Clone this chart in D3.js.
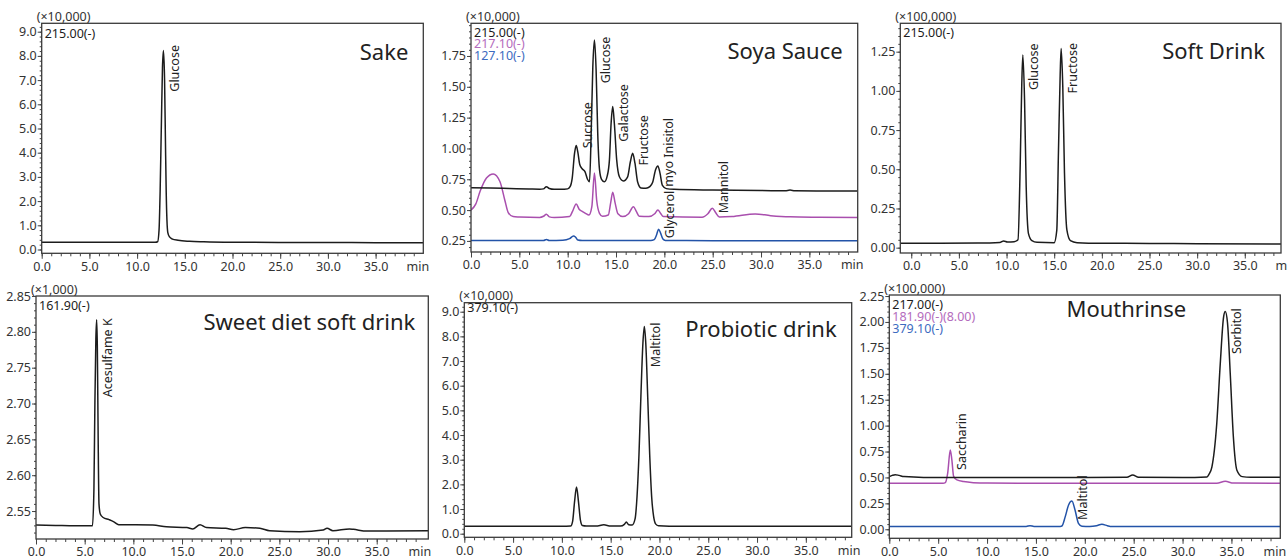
<!DOCTYPE html>
<html><head><meta charset="utf-8">
<script src="https://cdn.jsdelivr.net/npm/d3@7"></script>
<style>
body{margin:0;background:#fff}
svg{display:block;font-family:"Noto Sans",sans-serif}
</style></head><body>
<svg id="chart" width="1287" height="560"></svg>
<script>
// ---------- axis tick values / labels ----------
const timeTicks = [0,5,10,15,20,25,30,35,40];
const timeTickLabels = ["0.0","5.0","10.0","15.0","20.0","25.0","30.0","35.0","min"];
const yTicks9 = [0,1,2,3,4,5,6,7,8,9];
const yLabels9 = ["0.0","1.0","2.0","3.0","4.0","5.0","6.0","7.0","8.0","9.0"];
const yTicksSoya = [0.25,0.5,0.75,1.0,1.25,1.5,1.75];
const yLabelsSoya = ["0.25","0.50","0.75","1.00","1.25","1.50","1.75"];
const yTicksSoft = [0,0.25,0.5,0.75,1.0,1.25];
const yLabelsSoft = ["0.00","0.25","0.50","0.75","1.00","1.25"];
const yTicksSweet = [2.55,2.6,2.65,2.7,2.75,2.8,2.85];
const yLabelsSweet = ["2.55","2.60","2.65","2.70","2.75","2.80","2.85"];
const yTicksMouth = [0,0.25,0.5,0.75,1.0,1.25,1.5,1.75,2.0,2.25];
const yLabelsMouth = ["0.00","0.25","0.50","0.75","1.00","1.25","1.50","1.75","2.00","2.25"];

// ---------- chromatogram traces [time (min), intensity] ----------
const sake215 = [[0,0.30],[3,0.30],[6,0.30],[9,0.30],[11,0.30],[11.9,0.30],[12.15,0.32],[12.3,0.8],[12.42,2.5],[12.55,5.3],[12.66,7.5],[12.76,8.22],[12.88,7.0],[12.97,4.5],[13.05,2.4],[13.13,1.2],[13.22,0.7],[13.4,0.52],[13.7,0.43],[14.3,0.38],[15.5,0.34],[17,0.32],[20,0.30],[25,0.29],[30,0.29],[35,0.28],[40,0.28]];

const soya215 = [[0,0.682],[2,0.679],[4,0.675],[6,0.671],[7.1,0.669],[7.5,0.672],[7.8,0.69],[8.1,0.675],[8.6,0.668],[9.3,0.668],[10.0,0.672],[10.25,0.69],[10.47,0.76],[10.71,0.96],[10.88,1.023],[11.05,0.97],[11.25,0.87],[11.5,0.835],[11.8,0.81],[12.05,0.75],[12.26,0.73],[12.43,1.12],[12.6,1.66],[12.77,1.88],[12.94,1.64],[13.11,1.12],[13.29,0.83],[13.5,0.75],[13.8,0.73],[14.1,0.78],[14.32,0.907],[14.49,1.20],[14.66,1.34],[14.83,1.20],[15.07,0.907],[15.35,0.77],[15.76,0.736],[16.2,0.77],[16.48,0.89],[16.72,0.96],[16.96,0.88],[17.23,0.73],[17.58,0.68],[18.1,0.677],[18.5,0.69],[18.78,0.723],[19.1,0.83],[19.33,0.858],[19.55,0.80],[19.8,0.70],[20.2,0.674],[21,0.668],[25,0.662],[30,0.658],[32.5,0.657],[33.0,0.662],[33.5,0.656],[36,0.655],[40,0.654]];
const soya217 = [[0,0.50],[0.5,0.55],[0.93,0.65],[1.6,0.76],[2.3,0.793],[3.0,0.73],[3.5,0.58],[3.85,0.48],[4.36,0.447],[5,0.444],[7.1,0.44],[7.5,0.45],[7.8,0.466],[8.1,0.445],[8.6,0.44],[10.2,0.447],[10.5,0.49],[10.88,0.55],[11.2,0.505],[11.5,0.49],[11.84,0.474],[12.2,0.46],[12.5,0.528],[12.77,0.80],[13.0,0.58],[13.29,0.474],[13.6,0.45],[14.2,0.46],[14.45,0.56],[14.66,0.645],[14.9,0.56],[15.2,0.47],[15.7,0.447],[16.3,0.47],[16.8,0.528],[17.1,0.49],[17.4,0.45],[18.4,0.447],[19.0,0.47],[19.33,0.50],[19.6,0.475],[19.9,0.447],[23.9,0.442],[24.5,0.47],[24.96,0.515],[25.3,0.48],[25.7,0.443],[27,0.447],[29.4,0.469],[31,0.455],[33,0.445],[36,0.442],[40,0.44]];
const soya127 = [[0,0.253],[7.5,0.253],[7.8,0.262],[8.1,0.253],[9.5,0.255],[10.2,0.268],[10.6,0.29],[10.8,0.282],[11.05,0.257],[11.5,0.253],[18.6,0.253],[18.95,0.26],[19.2,0.30],[19.4,0.345],[19.6,0.315],[19.85,0.265],[20.1,0.254],[25,0.252],[30,0.252],[35,0.252],[40,0.252]];

const soft215 = [[-1.15,0.028],[3,0.028],[7,0.029],[9.3,0.033],[9.7,0.043],[10.1,0.036],[10.8,0.038],[11.2,0.05],[11.43,0.52],[11.6,1.05],[11.71,1.229],[11.89,0.94],[12.06,0.39],[12.3,0.09],[12.66,0.045],[13.2,0.034],[15.0,0.032],[15.27,0.11],[15.45,0.62],[15.63,1.11],[15.73,1.271],[15.9,1.03],[16.08,0.474],[16.33,0.113],[16.7,0.045],[17.4,0.032],[20,0.028],[25,0.027],[30,0.025],[38.8,0.023]];

const sweet162 = [[0,2.5305],[2,2.530],[4,2.5295],[5.8,2.5295],[5.95,2.58],[6.05,2.70],[6.15,2.79],[6.23,2.817],[6.3,2.78],[6.38,2.66],[6.47,2.56],[6.6,2.546],[6.9,2.541],[7.5,2.538],[8.0,2.535],[8.5,2.531],[12,2.5305],[13.4,2.528],[15.5,2.527],[16.1,2.525],[16.85,2.531],[17.5,2.527],[19.5,2.526],[20.3,2.524],[21.5,2.527],[23,2.526],[24,2.5225],[27.1,2.521],[29.5,2.5235],[29.9,2.526],[30.5,2.5225],[32.2,2.525],[32.6,2.5245],[34,2.522],[36,2.522],[40.3,2.5225]];

const probiotic379 = [[0,0.30],[5,0.30],[10,0.30],[10.9,0.31],[11.1,0.5],[11.3,1.3],[11.5,1.89],[11.7,1.3],[11.9,0.55],[12.1,0.33],[12.5,0.31],[13.5,0.31],[14.3,0.36],[15,0.31],[16.0,0.31],[16.4,0.38],[16.6,0.47],[16.85,0.36],[17.2,0.35],[17.5,0.6],[17.7,1.5],[17.9,3.2],[18.1,5.6],[18.3,7.7],[18.45,8.4],[18.6,7.7],[18.8,5.5],[19.0,3.2],[19.2,1.5],[19.4,0.7],[19.6,0.4],[19.9,0.32],[21,0.30],[30,0.30],[39.7,0.30]];

const mouth217 = [[0,0.508],[0.3,0.52],[0.6,0.527],[1.0,0.52],[1.5,0.508],[3.5,0.50],[10,0.50],[20,0.50],[24.3,0.502],[24.9,0.524],[25.5,0.503],[30,0.50],[32.5,0.505],[32.7,0.53],[33.0,0.60],[33.5,1.02],[33.86,1.60],[34.2,2.05],[34.37,2.10],[34.6,1.99],[34.88,1.50],[35.2,0.89],[35.56,0.57],[36.1,0.508],[37,0.502],[40,0.501]];
const mouth182 = [[0,0.444],[5.5,0.444],[5.73,0.45],[5.97,0.54],[6.24,0.765],[6.4,0.67],[6.58,0.51],[6.92,0.476],[7.6,0.46],[8.6,0.45],[10,0.446],[20,0.444],[33.5,0.444],[34.37,0.463],[35.2,0.446],[40,0.444]];
const mouth379 = [[0,0.026],[10,0.027],[14.0,0.027],[14.4,0.035],[14.8,0.027],[17.5,0.028],[17.66,0.032],[18.0,0.122],[18.34,0.235],[18.68,0.273],[19.0,0.186],[19.35,0.058],[19.7,0.03],[20.5,0.028],[21.2,0.035],[21.75,0.048],[22.3,0.035],[22.6,0.028],[30,0.027],[40,0.027]];

// ---------- peak annotations: name, retention time, intensity where the label starts ----------
const sakePeaks = [{name:"Glucose", time:12.78, from:6.52}];
const soyaPeaks = [{name:"Sucrose", time:10.88, from:1.001},{name:"Glucose", time:12.77, from:1.528},{name:"Galactose", time:14.66, from:1.055},{name:"Fructose", time:16.72, from:0.861},{name:"myo Inisitol", time:19.33, from:0.69},{name:"Glycerol", time:19.4, from:0.272},{name:"Mannitol", time:24.96, from:0.474}];
const softPeaks = [{name:"Glucose", time:11.71, from:1.005},{name:"Fructose", time:15.73, from:0.984}];
const sweetPeaks = [{name:"Acesulfame K", time:6.23, from:2.7086}];
const probioticPeaks = [{name:"Maltitol", time:18.45, from:6.75}];
const mouthPeaks = [{name:"Saccharin", time:6.24, from:0.572},{name:"Maltitol", time:18.68, from:0.09},{name:"Sorbitol", time:34.37, from:1.69}];

// ---------- styles ----------
const BLACK = "#1c1c1c", PURPLE = "#a94fae", BLUE = "#2353a8";
const PURPLE_T = "#b46cbd", BLUE_T = "#3d6bbf";

const panels = [
  {title:"Sake", mult:"(\u00d710,000)", ch:[["215.00(-)",sake215,BLACK,BLACK]], peaks:sakePeaks,
   yT:yTicks9, yL:yLabels9, yMinor:0.2, box:[41.7,23.3,423.3,253.3], xDom:[0,40], yDom:[-0.157,9.347],
   chanY:37.5, chanStep:11.5, titleX:-15, titleY:60, titleAnchor:"end"},
  {title:"Soya Sauce", mult:"(\u00d710,000)", ch:[["215.00(-)",soya215,BLACK,BLACK],["217.10(-)",soya217,PURPLE,PURPLE_T],["127.10(-)",soya127,BLUE,BLUE_T]], peaks:soyaPeaks,
   yT:yTicksSoya, yL:yLabelsSoya, yMinor:0.05, box:[471,23.3,857.7,252], xDom:[0,40], yDom:[0.16,2.015],
   chanY:36.5, chanStep:11.5, titleX:-15, titleY:58.5, titleAnchor:"end"},
  {title:"Soft Drink", mult:"(\u00d7100,000)", ch:[["215.00(-)",soft215,BLACK,BLACK]], peaks:softPeaks,
   yT:yTicksSoft, yL:yLabelsSoft, yMinor:0.05, box:[900.3,23.3,1281,253], xDom:[-1.15,38.8], yDom:[-0.034,1.431],
   chanY:37, chanStep:11.5, titleX:-16, titleY:58.5, titleAnchor:"end"},
  {title:"Sweet diet soft drink", mult:"(\u00d71,000)", ch:[["161.90(-)",sweet162,BLACK,BLACK]], peaks:sweetPeaks,
   yT:yTicksSweet, yL:yLabelsSweet, yMinor:0.01, box:[36,296,428.3,539], xDom:[0,40.3], yDom:[2.511,2.85],
   chanY:310, chanStep:11.5, titleX:-13, titleY:330, titleAnchor:"end"},
  {title:"Probiotic drink", mult:"(\u00d710,000)", ch:[["379.10(-)",probiotic379,BLACK,BLACK]], peaks:probioticPeaks,
   yT:yTicks9, yL:yLabels9, yMinor:0.2, box:[464.3,302.7,851.7,537.3], xDom:[0,39.7], yDom:[-0.146,9.365],
   chanY:312, chanStep:11.5, titleX:-15, titleY:336.5, titleAnchor:"end"},
  {title:"Mouthrinse", mult:"(\u00d7100,000)", ch:[["217.00(-)",mouth217,BLACK,BLACK],["181.90(-)(8.00)",mouth182,PURPLE,PURPLE_T],["379.10(-)",mouth379,BLUE,BLUE_T]], peaks:mouthPeaks,
   yT:yTicksMouth, yL:yLabelsMouth, yMinor:0.05, box:[889.3,295,1280.3,538.3], xDom:[0,40], yDom:[-0.087,2.26],
   chanY:308.5, chanStep:12, titleX:-154, titleY:317, titleAnchor:"middle"}
];

const svg = d3.select("#chart");
const FS = 12.5, AX = "#444", TX = "#333";

panels.forEach((p, i) => {
  const [x0,y0,x1,y1] = p.box;
  const x = d3.scaleLinear().domain(p.xDom).range([x0,x1]);
  const y = d3.scaleLinear().domain(p.yDom).range([y1,y0]);
  const g = svg.append("g");
  const clipId = "clip" + i;
  svg.append("clipPath").attr("id", clipId).append("rect")
    .attr("x", x0).attr("y", y0).attr("width", x1-x0).attr("height", y1-y0);

  const styleAxis = sel => {
    sel.select(".domain").remove();
    sel.selectAll("line").attr("stroke", AX).attr("stroke-width", 1);
    sel.selectAll("text").attr("fill", TX).style("font-size", FS + "px").style("font-family", '"Noto Sans",sans-serif');
  };

  // x minor ticks (1 min)
  const xMinor = d3.range(0, 40, 1).filter(v => v >= p.xDom[0] && v <= p.xDom[1]);
  g.append("g").attr("transform", `translate(0,${y1})`)
    .call(d3.axisBottom(x).tickValues(xMinor).tickSize(3).tickFormat(""))
    .call(styleAxis);
  // x major ticks
  const xa = g.append("g").attr("transform", `translate(0,${y1})`)
    .call(d3.axisBottom(x).tickValues(timeTicks).tickSize(5.5).tickPadding(3).tickFormat((d,k) => timeTickLabels[k]))
    .call(styleAxis);
  xa.selectAll(".tick").filter(d => d === 40).select("line").remove();
  xa.selectAll(".tick").filter(d => d === 40).select("text").attr("dx", -6);

  // y minor ticks
  const st = p.yMinor;
  const yMinorVals = d3.range(Math.ceil(p.yDom[0]/st - 1e-6), Math.floor(p.yDom[1]/st + 1e-6) + 1).map(k => k*st);
  g.append("g").attr("transform", `translate(${x0},0)`)
    .call(d3.axisLeft(y).tickValues(yMinorVals).tickSize(2).tickFormat(""))
    .call(styleAxis);
  // y major ticks
  g.append("g").attr("transform", `translate(${x0},0)`)
    .call(d3.axisLeft(y).tickValues(p.yT).tickSize(4).tickPadding(1).tickFormat((d,k) => p.yL[k]))
    .call(styleAxis);

  // traces
  const line = d3.line().x(d => x(d[0])).y(d => y(d[1])).curve(d3.curveMonotoneX);
  const tg = g.append("g").attr("clip-path", `url(#${clipId})`);
  p.ch.slice().reverse().forEach(c => {
    tg.append("path").datum(c[1]).attr("d", line)
      .attr("fill", "none").attr("stroke", c[2]).attr("stroke-width", 1.5)
      .attr("stroke-linejoin", "round");
  });

  // frame
  g.append("rect").attr("x", x0).attr("y", y0).attr("width", x1-x0).attr("height", y1-y0)
    .attr("fill", "none").attr("stroke", "#3a3a3a").attr("stroke-width", 1.3);

  // multiplier
  g.append("text").attr("x", x0 - 5).attr("y", y0 - 2.5).attr("fill", TX)
    .style("font-size", "12.5px").text(p.mult);

  // channel labels
  p.ch.forEach((c, k) => {
    g.append("text").attr("x", x0 + 3).attr("y", p.chanY + k*p.chanStep)
      .attr("fill", c[3]).style("font-size", "12.5px").text(c[0]);
  });

  // title
  g.append("text").attr("x", x1 + p.titleX).attr("y", p.titleY)
    .attr("text-anchor", p.titleAnchor).attr("fill", "#222")
    .style("font-size", "22px").text(p.title);

  // peak labels (rotated)
  p.peaks.forEach(pk => {
    const px = x(pk.time) + 15.5, py = y(pk.from);
    g.append("text").attr("transform", `translate(${px},${py}) rotate(-90)`)
      .attr("fill", "#222").style("font-size", "12.5px").text(pk.name);
  });
});
</script>
</body></html>
